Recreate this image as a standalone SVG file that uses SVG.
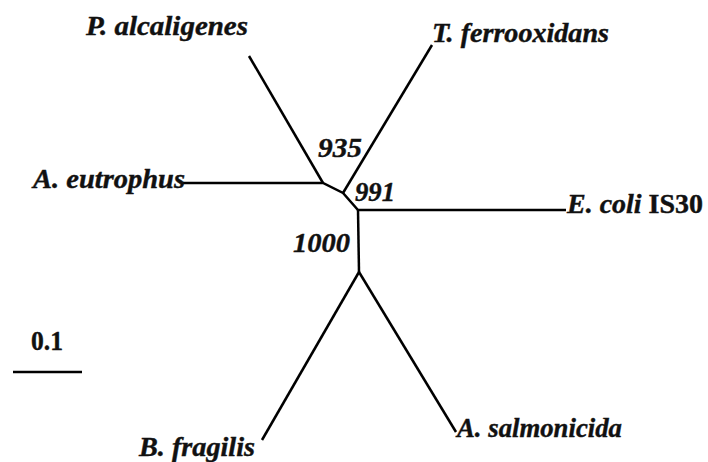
<svg xmlns="http://www.w3.org/2000/svg" width="708" height="462" viewBox="0 0 708 462">
<style>
.br{stroke:#000;stroke-width:2.5;fill:none;stroke-linecap:butt;stroke-linejoin:miter}
.lb{font-family:"Liberation Serif","Times New Roman",serif;font-weight:bold;font-style:italic;font-size:27px;fill:#111;stroke:#111;stroke-width:0.4}
.up{font-style:normal}
</style>
<rect width="708" height="462" fill="#fff"/>
<g id="connectors">
<polyline class="br" points="183,183 323,183 343,193 358,210 566,210"/>
<line class="br" x1="323" y1="183" x2="249" y2="56"/>
<line class="br" x1="343" y1="193" x2="432" y2="45"/>
<polyline class="br" points="358,210 359,272"/>
<line class="br" x1="359" y1="272" x2="262" y2="440"/>
<line class="br" x1="359" y1="272" x2="456" y2="432"/>
<line class="br" x1="13" y1="372" x2="82" y2="372"/>
</g>
<g id="node-palcaligenes"><text class="lb" x="86" y="35" textLength="162" lengthAdjust="spacingAndGlyphs">P. alcaligenes</text></g>
<g id="node-tferrooxidans"><text class="lb" x="432" y="42" textLength="177" lengthAdjust="spacingAndGlyphs">T. ferrooxidans</text></g>
<g id="node-aeutrophus"><text class="lb" x="33" y="188" textLength="152" lengthAdjust="spacingAndGlyphs">A. eutrophus</text></g>
<g id="node-ecoli"><text class="lb" x="567" y="213" textLength="136" lengthAdjust="spacingAndGlyphs">E. coli <tspan class="up">IS30</tspan></text></g>
<g id="node-bfragilis"><text class="lb" x="139" y="456" textLength="116" lengthAdjust="spacingAndGlyphs">B. fragilis</text></g>
<g id="node-asalmonicida"><text class="lb" x="457" y="437" textLength="165" lengthAdjust="spacingAndGlyphs">A. salmonicida</text></g>
<g id="bootstrap">
<text class="lb" x="318" y="157" textLength="44" lengthAdjust="spacingAndGlyphs">935</text>
<text class="lb" x="355" y="201" textLength="40" lengthAdjust="spacingAndGlyphs">991</text>
<text class="lb" x="293" y="252" textLength="57" lengthAdjust="spacingAndGlyphs">1000</text>
</g>
<g id="scale"><text class="lb up" x="31" y="350" textLength="32" lengthAdjust="spacingAndGlyphs">0.1</text></g>
</svg>
